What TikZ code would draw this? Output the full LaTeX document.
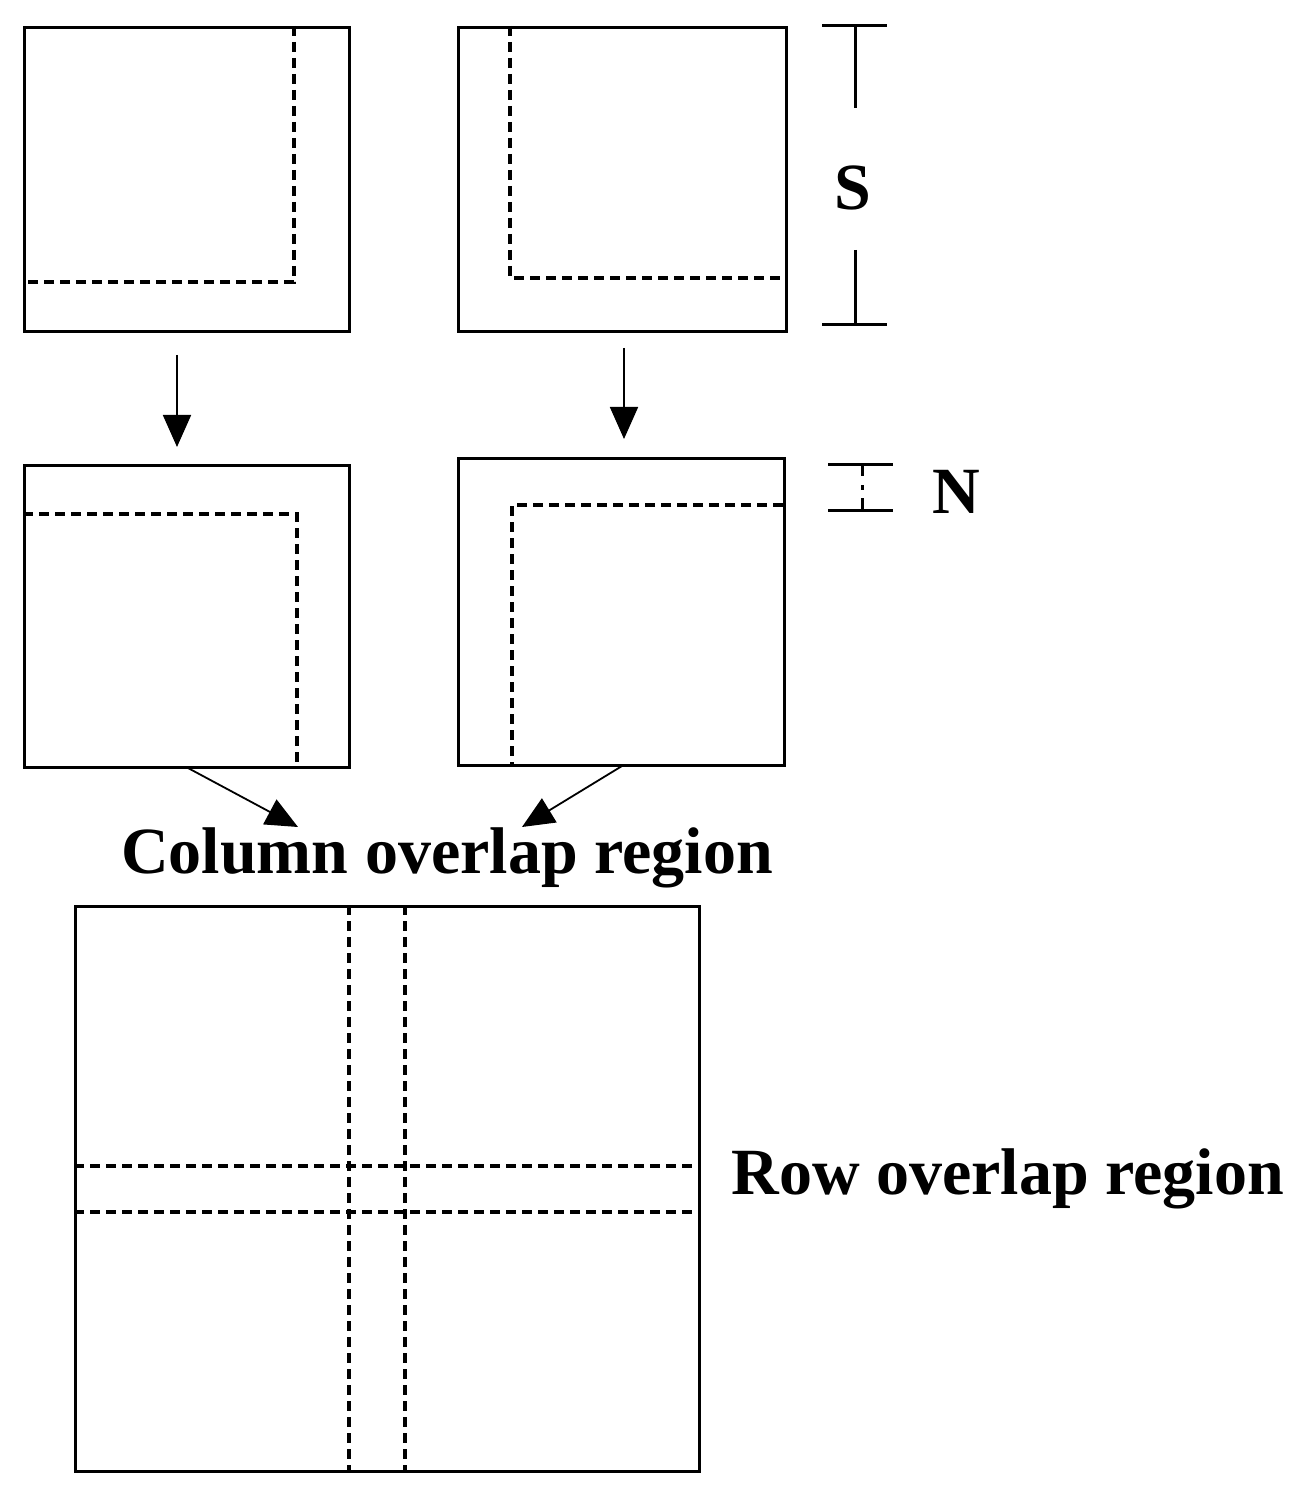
\documentclass[tikz,border=0pt]{standalone}
\usepackage{fontspec}
\setmainfont{Liberation Serif}
\usetikzlibrary{arrows.meta}
\begin{document}
\begin{tikzpicture}[x=0.5pt,y=-0.5pt,
 box/.style={draw,line width=1.5pt},
 dsh/.style={line width=1.8pt,dash pattern=on 5pt off 3pt},
 arr/.style={line width=0.9pt,-{Triangle[length=16pt,width=14pt]}},
 lbl/.style={font=\bfseries\fontsize{33}{38}\selectfont,inner sep=0pt}]
\useasboundingbox (0,0) rectangle (1305,1497);
\node[box,minimum width=162.5pt,minimum height=152pt,inner sep=0pt,anchor=north west] (A) at (23,26) {};
\node[box,minimum width=164pt,minimum height=152pt,inner sep=0pt,anchor=north west] (B) at (457,26) {};
\node[box,minimum width=162.5pt,minimum height=151pt,inner sep=0pt,anchor=north west] (C) at (23,464) {};
\node[box,minimum width=163pt,minimum height=153.5pt,inner sep=0pt,anchor=north west] (D) at (457,457) {};
\node[box,minimum width=312pt,minimum height=282.5pt,inner sep=0pt,anchor=north west] (E) at (74,905) {};
\draw[dsh] (294,26) -- (294,282) -- (23,282);
\draw[dsh] (510,26) -- (510,278) -- (785,278);
\draw[dsh] (23,514) -- (297,514) -- (297,766);
\draw[dsh] (783,505) -- (512,505) -- (512,764);
\draw[dsh] (349,905) -- (349,1470);
\draw[dsh] (405,905) -- (405,1470);
\draw[dsh] (74,1166) -- (698,1166);
\draw[dsh] (74,1212) -- (698,1212);
\coordinate (a1) at (177,355); \coordinate (a2) at (177,447);
\coordinate (b1) at (624,348); \coordinate (b2) at (624,439);
\draw[arr] (a1) -- (a2);
\draw[arr] (b1) -- (b2);
\coordinate (c1) at (188,768); \coordinate (c2) at (298,827);
\coordinate (d1) at (622,766); \coordinate (d2) at (522,827);
\draw[arr] (c1) -- (c2);
\draw[arr] (d1) -- (d2);
\node[lbl] (col) at (447,858) {Column overlap region};
\node[lbl,anchor=west] (row) at (731,1179) {Row overlap region};
% S dimension
\draw[line width=1.5pt] (822,26) -- (887,26) (822,325) -- (887,325)
  (855,26) -- (855,108) (855,250) -- (855,325);
\node[lbl] (S) at (853,188) {S};
% N dimension
\draw[line width=1.5pt] (828,464) -- (893,464) (828,510) -- (893,510)
  (862,464) -- (862,476) (862,485) -- (862,490) (862,498) -- (862,510);
\node[lbl] (N) at (956,492) {N};
\end{tikzpicture}
\end{document}
